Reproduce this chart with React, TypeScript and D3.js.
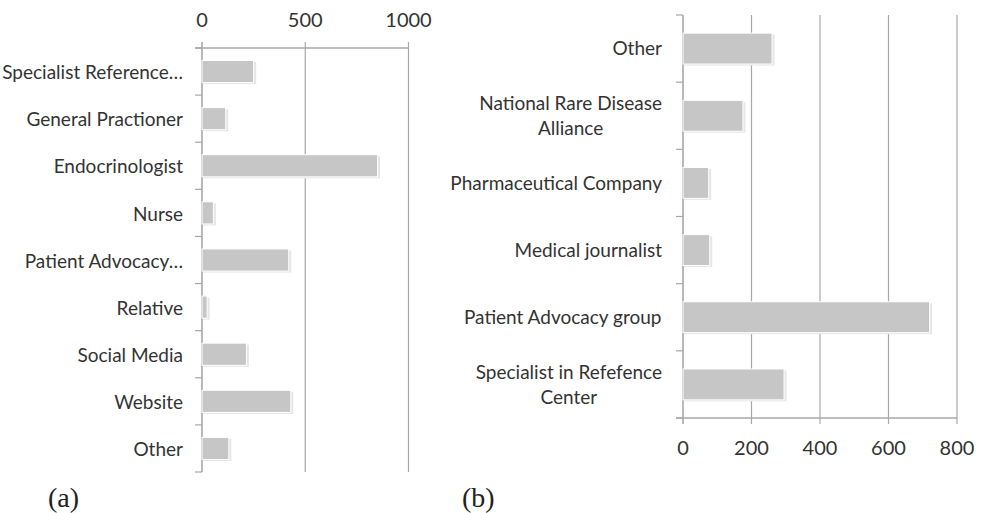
import React from "react";
import * as d3 from "d3";

const catsA = [
  "Specialist Reference…",
  "General Practioner",
  "Endocrinologist",
  "Nurse",
  "Patient Advocacy…",
  "Relative",
  "Social Media",
  "Website",
  "Other",
];
const valsA = [250, 115, 850, 55, 420, 25, 215, 430, 130];
const ticksA = [0, 500, 1000];

const catsB = [
  ["Other"],
  ["National Rare Disease", "Alliance"],
  ["Pharmaceutical Company"],
  ["Medical journalist"],
  ["Patient Advocacy group"],
  ["Specialist in Refefence", "Center"],
];
const valsB = [260, 175, 75, 78, 720, 295];
const ticksB = [0, 200, 400, 600, 800];

const FONT = "Lato, 'Open Sans', sans-serif";
const TXT = "#333333";
const GRID = "#a8a8a8";
const BAR = "#c6c6c6";
const LABEL_SIZE = 19;

function measure(s: string): number {
  try {
    const c = document.createElement("canvas").getContext("2d");
    if (!c) return s.length * 9;
    c.font = `${LABEL_SIZE}px Lato`;
    return c.measureText(s).width;
  } catch (e) {
    return s.length * 9;
  }
}

export default function App() {
  const xA = d3.scaleLinear().domain([0, 1000]).range([202, 408.5]);
  const yA = d3
    .scaleBand<number>()
    .domain(d3.range(catsA.length))
    .range([48, 472])
    .paddingInner(0.53)
    .paddingOuter(0.265);
  const stepA = yA.step();

  const xB = d3.scaleLinear().domain([0, 800]).range([683, 957]);
  const yB = d3
    .scaleBand<number>()
    .domain(d3.range(catsB.length))
    .range([15, 418])
    .paddingInner(0.54)
    .paddingOuter(0.27);
  const stepB = yB.step();

  const boundsA = d3.range(catsA.length + 1).map((i) => 48 + i * stepA);
  const boundsB = d3.range(catsB.length + 1).map((i) => 15 + i * stepB);
  const labelRightB = 662;

  return (
    <div style={{ position: "absolute", left: 0, top: 0 }}>
      <svg width={988} height={513} style={{ display: "block", background: "#fff" }}>
        {/* ---------- Chart (a) ---------- */}
        <g>
          {ticksA.map((t) => (
            <line
              key={"ga" + t}
              x1={xA(t)}
              x2={xA(t)}
              y1={42}
              y2={472}
              stroke={GRID}
              strokeWidth={t === 0 ? 1.6 : 1.2}
            />
          ))}
          <line x1={195} x2={xA(1000)} y1={48} y2={48} stroke={GRID} strokeWidth={1.4} />
          {ticksA.map((t) => (
            <text
              key={"ta" + t}
              x={xA(t)}
              y={27}
              textAnchor="middle"
              fontFamily={FONT}
              fontSize={20}
              fill={TXT}
            >
              {t}
            </text>
          ))}
          {boundsA.map((b, i) => (
            <line key={"ka" + i} x1={195} x2={202} y1={b} y2={b} stroke={GRID} strokeWidth={1.2} />
          ))}
          {valsA.map((v, i) => (
            <g key={"ba" + i}>
              <rect
                x={xA(0) + 1}
                y={(yA(i) as number) + 1.5}
                width={xA(v) - xA(0) + 1.5}
                height={yA.bandwidth()}
                fill="#e6e6e6"
              />
              <rect
                x={xA(0)}
                y={yA(i)}
                width={xA(v) - xA(0)}
                height={yA.bandwidth()}
                fill={BAR}
                stroke="#ffffff"
                strokeWidth={1}
              />
            </g>
          ))}
          {catsA.map((c, i) => (
            <text
              key={"la" + i}
              x={183}
              y={(yA(i) as number) + yA.bandwidth() / 2 + 1}
              dy="0.35em"
              textAnchor="end"
              fontFamily={FONT}
              fontSize={LABEL_SIZE}
              fill={TXT}
            >
              {c}
            </text>
          ))}
          <text x={48} y={507} fontFamily="'Liberation Serif', 'DejaVu Serif', serif" fontSize={28} fill="#222">
            (a)
          </text>
        </g>

        {/* ---------- Chart (b) ---------- */}
        <g>
          {ticksB.map((t) => (
            <line
              key={"gb" + t}
              x1={xB(t)}
              x2={xB(t)}
              y1={15}
              y2={424}
              stroke={GRID}
              strokeWidth={t === 0 ? 1.6 : 1.2}
            />
          ))}
          <line x1={676} x2={xB(800)} y1={418} y2={418} stroke={GRID} strokeWidth={1.4} />
          {boundsB.map((b, i) => (
            <line key={"kb" + i} x1={676} x2={683} y1={b} y2={b} stroke={GRID} strokeWidth={1.2} />
          ))}
          {ticksB.map((t) => (
            <text
              key={"tb" + t}
              x={xB(t)}
              y={455}
              textAnchor="middle"
              fontFamily={FONT}
              fontSize={20}
              fill={TXT}
            >
              {t}
            </text>
          ))}
          {valsB.map((v, i) => (
            <g key={"bb" + i}>
              <rect
                x={xB(0) + 1}
                y={(yB(i) as number) + 1.5}
                width={xB(v) - xB(0) + 1.5}
                height={yB.bandwidth()}
                fill="#e6e6e6"
              />
              <rect
                x={xB(0)}
                y={yB(i)}
                width={xB(v) - xB(0)}
                height={yB.bandwidth()}
                fill={BAR}
                stroke="#ffffff"
                strokeWidth={1}
              />
            </g>
          ))}
          {catsB.map((lines, i) => {
            const cy = (yB(i) as number) + yB.bandwidth() / 2;
            const lh = 25;
            const start = cy - ((lines.length - 1) * lh) / 2;
            const w = Math.max(...lines.map(measure));
            const cx = labelRightB - w / 2;
            return (
              <text
                key={"lb" + i}
                textAnchor="middle"
                fontFamily={FONT}
                fontSize={LABEL_SIZE}
                fill={TXT}
              >
                {lines.map((ln, j) => (
                  <tspan key={j} x={cx} y={start + j * lh} dy="0.35em">
                    {ln}
                  </tspan>
                ))}
              </text>
            );
          })}
          <text x={462} y={507} fontFamily="'Liberation Serif', 'DejaVu Serif', serif" fontSize={28} fill="#222">
            (b)
          </text>
        </g>
      </svg>
    </div>
  );
}
